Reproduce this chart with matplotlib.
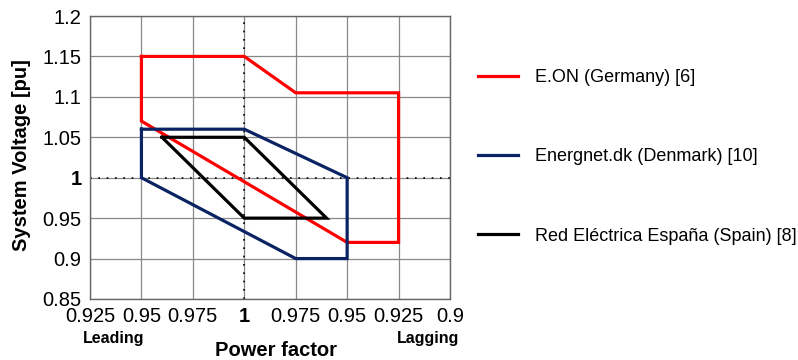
import matplotlib
matplotlib.use("Agg")
import matplotlib.pyplot as plt

plt.rcParams['font.family'] = ['Liberation Sans', 'DejaVu Sans']

# x positions: signed deviation from unity pf (leading negative, lagging positive)
tick_pos = [-0.075, -0.05, -0.025, 0.0, 0.025, 0.05, 0.075, 0.1]
tick_labels = ["0.925", "0.95", "0.975", "1", "0.975", "0.95", "0.925", "0.9"]
y_ticks = [0.85, 0.9, 0.95, 1.0, 1.05, 1.1, 1.15, 1.2]
y_labels = ["0.85", "0.9", "0.95", "1", "1.05", "1.1", "1.15", "1.2"]

eon_x = [-0.05, 0.0, 0.025, 0.075, 0.075, 0.05, -0.05, -0.05]
eon_y = [1.15, 1.15, 1.105, 1.105, 0.92, 0.92, 1.07, 1.15]

dk_x = [-0.05, 0.0, 0.05, 0.05, 0.025, -0.05, -0.05]
dk_y = [1.06, 1.06, 1.0, 0.9, 0.9, 1.0, 1.06]

ree_x = [-0.04, 0.0, 0.04, 0.0, -0.04]
ree_y = [1.05, 1.05, 0.95, 0.95, 1.05]

labels = ["E.ON (Germany) [6]", "Energnet.dk (Denmark) [10]", "Red Eléctrica España (Spain) [8]"]
colors = ["#ff0000", "#0a2463", "#000000"]

fig = plt.figure(figsize=(7.98, 3.6), dpi=100)
ax = fig.add_axes([90/798, 1-299/360, 360/798, 283/360])

ax.set_xlim(-0.075, 0.1)
ax.set_ylim(0.85, 1.2)
ax.set_xticks(tick_pos)
ax.set_xticklabels(tick_labels)
ax.set_yticks(y_ticks)
ax.set_yticklabels(y_labels)
for lbl in ax.get_xticklabels():
    if lbl.get_text() == "1":
        lbl.set_fontweight("bold")
for lbl in ax.get_yticklabels():
    if lbl.get_text() == "1":
        lbl.set_fontweight("bold")
ax.tick_params(axis='both', length=0, labelsize=14.5)
ax.tick_params(axis='x', pad=6)
ax.tick_params(axis='y', pad=6)
ax.grid(True, color="#888888", linewidth=0.9)
ax.set_axisbelow(True)
for s in ax.spines.values():
    s.set_color("#666666")
    s.set_linewidth(1.0)

ax.axvline(0.0, color="black", linestyle=(0, (1, 4)), linewidth=1.2, zorder=1.5)
ax.axhline(1.0, color="black", linestyle=(0, (1, 4)), linewidth=1.2, zorder=1.5)

h1, = ax.plot(eon_x, eon_y, color=colors[0], linewidth=2.3, solid_joinstyle='miter')
h2, = ax.plot(dk_x, dk_y, color=colors[1], linewidth=2.3, solid_joinstyle='miter')
h3, = ax.plot(ree_x, ree_y, color=colors[2], linewidth=2.3, solid_joinstyle='miter')

fig.text(22/798, 1-155/360, "System Voltage [pu]", fontsize=14.5, fontweight="bold",
         rotation=90, ha="center", va="center")
fig.text(276/798, 1-350/360, "Power factor", fontsize=14.5, fontweight="bold",
         ha="center", va="center")
fig.text(114/798, 1-338/360, "Leading", fontsize=11.5, fontweight="bold", ha="center", va="center")
fig.text(428/798, 1-338/360, "Lagging", fontsize=11.5, fontweight="bold", ha="center", va="center")

fig.legend([h1, h2, h3], labels, loc="upper left", bbox_to_anchor=(478/798, 1-69/360),
           frameon=False, fontsize=13, handlelength=2.2, labelspacing=3.45,
           handletextpad=0.95, borderaxespad=0, borderpad=0)

fig.savefig("out.png", dpi=100)
